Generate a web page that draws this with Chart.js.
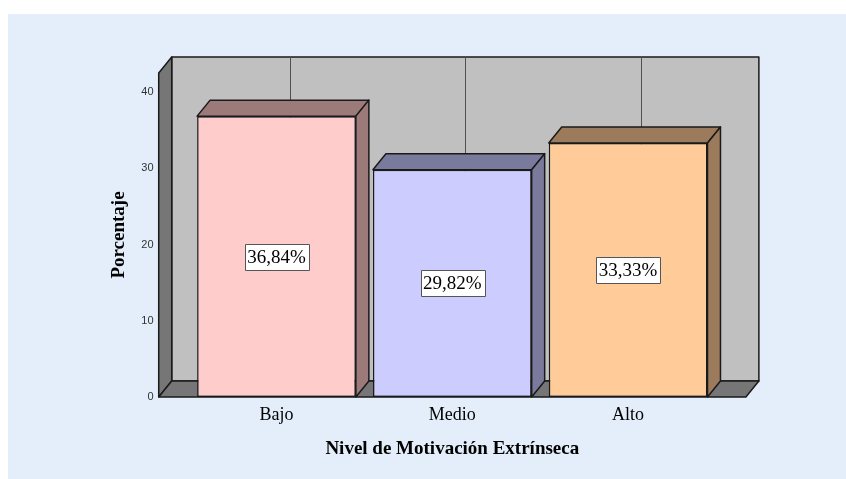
<!DOCTYPE html>
<html>
<head>
<meta charset="utf-8">
<script src="https://cdn.jsdelivr.net/npm/chart.js@4/dist/chart.umd.min.js"></script>
<style>
  html, body { margin: 0; padding: 0; background: #ffffff; }
  #panel { position: absolute; left: 8px; top: 14px; width: 838px; height: 465px; background: #E3EEFA; }
  canvas { display: block; }
</style>
</head>
<body>
<div id="panel"><canvas id="c" width="838" height="465"></canvas></div>
<script>
const categories = ['Bajo', 'Medio', 'Alto'];
const percentages = [36.84, 29.82, 33.33];
const yTicks = [0, 10, 20, 30, 40];
const frontColors = ['#FFCCCC', '#CCCCFF', '#FFCC99'];
const shadeColors = ['#9C7A7A', '#7A7A9C', '#9C7A5C'];
const xTitle = 'Nivel de Motivación Extrínseca';
const yTitle = 'Porcentaje';

const DX = 13, DY = -16;
const SERIF = '"Liberation Serif", "Times New Roman", serif';
const SANS = '"Liberation Sans", Arial, sans-serif';

function poly(ctx, pts, fill) {
  ctx.beginPath();
  ctx.moveTo(pts[0][0], pts[0][1]);
  for (let i = 1; i < pts.length; i++) ctx.lineTo(pts[i][0], pts[i][1]);
  ctx.closePath();
  ctx.fillStyle = fill;
  ctx.fill();
  ctx.stroke();
}

const box3d = {
  id: 'box3d',
  beforeDatasetsDraw(chart) {
    const {ctx, chartArea: a, scales: {x}} = chart;
    const catW = (a.right - a.left) / categories.length;
    const m = catW * 0.17;
    const L = a.left - m, R = a.right + m, T = a.top, B = a.bottom;
    ctx.save();
    ctx.strokeStyle = '#1a1a1a';
    ctx.lineWidth = 1.5;
    ctx.lineJoin = 'round';
    poly(ctx, [[L + DX, T + DY], [R + DX, T + DY], [R + DX, B + DY], [L + DX, B + DY]], '#C0C0C0');
    poly(ctx, [[L, T], [L + DX, T + DY], [L + DX, B + DY], [L, B]], '#767676');
    poly(ctx, [[L, B], [L + DX, B + DY], [R + DX, B + DY], [R, B]], '#767676');
    ctx.strokeStyle = '#505050';
    ctx.lineWidth = 1;
    categories.forEach((c, i) => {
      const px = Math.round(x.getPixelForValue(i) + DX) + 0.5;
      ctx.beginPath();
      ctx.moveTo(px, T + DY);
      ctx.lineTo(px, B + DY);
      ctx.stroke();
    });
    ctx.restore();
  },
  afterDatasetsDraw(chart) {
    const {ctx} = chart;
    const meta = chart.getDatasetMeta(0);
    ctx.save();
    ctx.strokeStyle = '#1a1a1a';
    ctx.lineWidth = 1.5;
    ctx.lineJoin = 'round';
    meta.data.forEach((bar, i) => {
      const {x, y, base, width} = bar.getProps(['x', 'y', 'base', 'width'], true);
      const xl = x - width / 2, xr = x + width / 2;
      poly(ctx, [[xl, y], [xl + DX, y + DY], [xr + DX, y + DY], [xr, y]], shadeColors[i]);
      poly(ctx, [[xr, y], [xr + DX, y + DY], [xr + DX, base + DY], [xr, base]], shadeColors[i]);
    });
    ctx.font = '19px ' + SERIF;
    ctx.textAlign = 'center';
    ctx.textBaseline = 'middle';
    meta.data.forEach((bar, i) => {
      const {x, y, base} = bar.getProps(['x', 'y', 'base'], true);
      const txt = percentages[i].toFixed(2).replace('.', ',') + '%';
      const w = ctx.measureText(txt).width + 5;
      const h = 26;
      const cy = (y + base) / 2;
      ctx.fillStyle = '#ffffff';
      ctx.strokeStyle = '#555555';
      ctx.lineWidth = 1;
      ctx.fillRect(Math.round(x - w / 2) + 0.5, Math.round(cy - h / 2) + 0.5, Math.round(w), h);
      ctx.strokeRect(Math.round(x - w / 2) + 0.5, Math.round(cy - h / 2) + 0.5, Math.round(w), h);
      ctx.fillStyle = '#000000';
      ctx.fillText(txt, x, cy + 1);
    });
    ctx.restore();
  }
};

new Chart(document.getElementById('c'), {
  type: 'bar',
  data: {
    labels: categories,
    datasets: [{
      data: percentages,
      backgroundColor: frontColors,
      borderColor: '#1a1a1a',
      borderWidth: 1.5,
      borderSkipped: false,
      barPercentage: 0.903,
      categoryPercentage: 1.0
    }]
  },
  options: {
    responsive: false,
    animation: false,
    layout: { padding: { top: 59, right: 130, left: 0, bottom: 0 } },
    plugins: { legend: { display: false }, tooltip: { enabled: false } },
    scales: {
      x: {
        grid: { display: false, drawTicks: false },
        border: { display: false },
        ticks: { color: '#000', font: { family: SERIF, size: 18 }, padding: 7 },
        title: { display: true, text: xTitle, color: '#000', font: { family: SERIF, size: 19, weight: 'bold' }, padding: { top: 0, bottom: 19 } },
        afterFit(s) { s.height = 82; }
      },
      y: {
        min: 0,
        max: 42.5,
        grid: { display: false, drawTicks: false },
        border: { display: false },
        ticks: { stepSize: 10, color: '#333', font: { family: SANS, size: 11 }, padding: 35 },
        afterBuildTicks(s) { s.ticks = yTicks.map(v => ({ value: v })); },
        title: { display: true, text: yTitle, color: '#000', font: { family: SERIF, size: 19, weight: 'bold' }, padding: { top: 100, bottom: 0 } },
        afterFit(s) { s.width = 180.6; }
      }
    }
  },
  plugins: [box3d]
});
</script>
</body>
</html>
